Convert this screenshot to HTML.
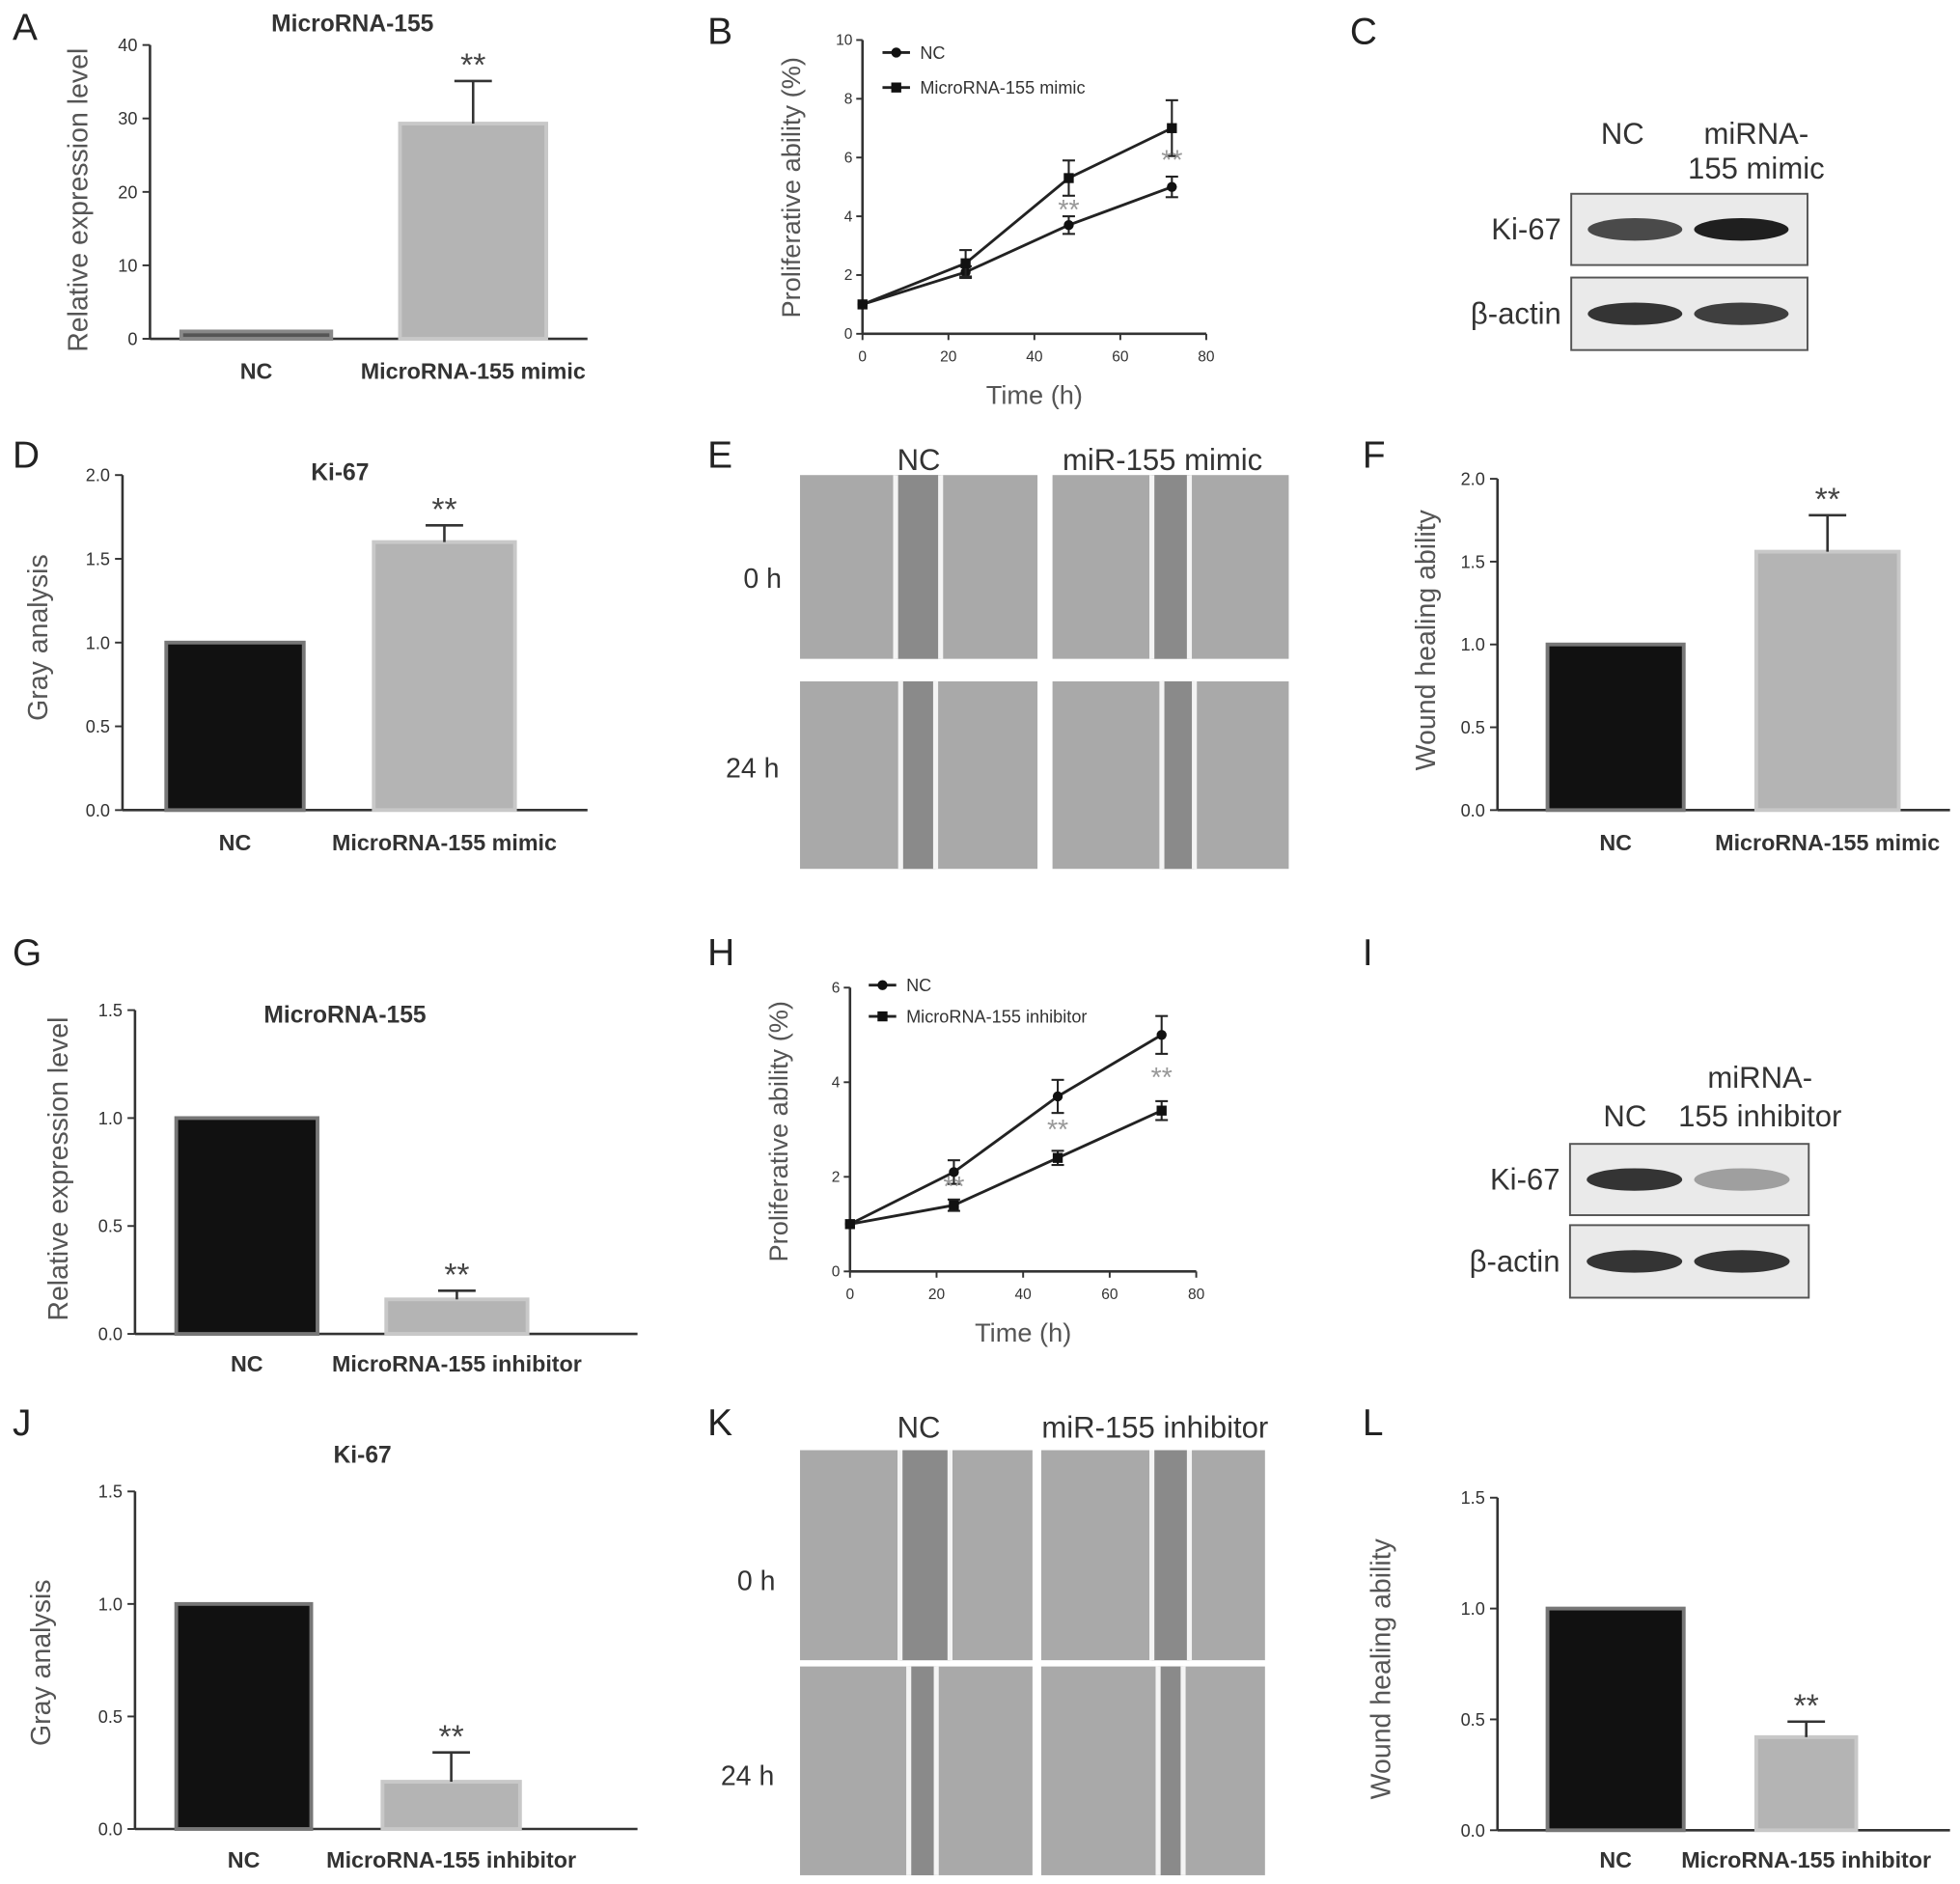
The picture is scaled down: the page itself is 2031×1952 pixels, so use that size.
<!DOCTYPE html>
<html><head><meta charset="utf-8"><style>
html,body{margin:0;padding:0;background:#fff;}
svg{display:block;font-family:"Liberation Sans",sans-serif;}
</style></head><body>
<svg id="fig" width="2031" height="1952" viewBox="0 0 1568 1507" xmlns="http://www.w3.org/2000/svg">
<rect width="1568" height="1507" fill="#fff"/>
</svg>
<script>
// ---- data ----
const barCats = ["NC","MicroRNA-155 mimic"];
const barCatsInh = ["NC","MicroRNA-155 inhibitor"];
const aValues = [1.0, 29.3]; const aErr = [0, 5.8]; const aTicks = [0,10,20,30,40];
const dValues = [1.0, 1.6]; const dErr = [0, 0.1]; const dTicks = ["0.0","0.5","1.0","1.5","2.0"];
const fValues = [1.0, 1.56]; const fErr = [0, 0.22]; const fTicks = ["0.0","0.5","1.0","1.5","2.0"];
const gValues = [1.0, 0.16]; const gErr = [0, 0.04]; const gTicks = ["0.0","0.5","1.0","1.5"];
const jValues = [1.0, 0.21]; const jErr = [0, 0.13]; const jTicks = ["0.0","0.5","1.0","1.5"];
const lValues = [1.0, 0.42]; const lErr = [0, 0.07]; const lTicks = ["0.0","0.5","1.0","1.5"];
const timePoints = [0,24,48,72];
const bNC = [1.0,2.1,3.7,5.0]; const bNCErr = [0,0.2,0.3,0.35];
const bMimic = [1.0,2.4,5.3,7.0]; const bMimicErr = [0,0.45,0.6,0.95];
const bTicks = [0,2,4,6,8,10]; const timeTicks = [0,20,40,60,80];
const hNC = [1.0,2.1,3.7,5.0]; const hNCErr = [0,0.25,0.35,0.4];
const hInh = [1.0,1.4,2.4,3.4]; const hInhErr = [0,0.12,0.15,0.2];
const hTicks = [0,2,4,6];

const svg = document.getElementById('fig');
const NS = "http://www.w3.org/2000/svg";
function mk(tag, attrs, parent, text){
  const e = document.createElementNS(NS, tag);
  for (const k in attrs) e.setAttribute(k, attrs[k]);
  if (text !== undefined) e.textContent = text;
  (parent||svg).appendChild(e);
  return e;
}
function txt(x,y,s,size,opts,name){
  opts = opts||{};
  const t = mk('text',{x:x,y:y,'font-size':size,fill:opts.fill||'#333','text-anchor':opts.anchor||'middle','font-weight':opts.bold?'bold':'normal'},null,s);
  if (opts.rot) t.setAttribute('transform','rotate(-90 '+x+' '+y+')');
  
  
  return t;
}
function letter(x,y,s){ txt(x,y,s,30,{anchor:'start',fill:'#222'},'panel-letter-'+s.toLowerCase()); }

function barChart(c){
  const g = mk('g',{});
  
  
  const ys = v => c.y0 - (v - 0)/(c.max)*(c.y0 - c.y1);
  mk('line',{x1:c.ax,y1:c.y1,x2:c.ax,y2:c.y0,stroke:'#333','stroke-width':2},g);
  mk('line',{x1:c.ax,y1:c.y0,x2:c.xEnd,y2:c.y0,stroke:'#333','stroke-width':2},g);
  c.ticks.forEach((t,i)=>{
    const v = parseFloat(t); const y = ys(v);
    mk('line',{x1:c.ax-6,y1:y,x2:c.ax,y2:y,stroke:'#333','stroke-width':1.5},g);
    const tl = mk('text',{x:c.ax-10,y:y+5,'font-size':14,'text-anchor':'end',fill:'#333'},g,t);
    
    
  });
  c.values.forEach((v,i)=>{
    const x0 = c.bx[i][0], x1 = c.bx[i][1], y = ys(v);
    const r = mk('rect',{x:x0,y:y,width:x1-x0,height:c.y0-y,fill:c.fills[i],stroke:c.strokes[i],'stroke-width':3},g);
    
    
    if (c.err[i] > 0){
      const cx = (x0+x1)/2, ye = ys(v + c.err[i]);
      mk('line',{x1:cx,y1:y,x2:cx,y2:ye,stroke:'#333','stroke-width':2},g);
      mk('line',{x1:cx-15,y1:ye,x2:cx+15,y2:ye,stroke:'#333','stroke-width':2},g);
      const st = mk('text',{x:cx,y:ye-4,'font-size':26,'text-anchor':'middle',fill:'#444'},g,'**');
      
      
    }
    const cl = mk('text',{x:(x0+x1)/2,y:c.catY,'font-size':18,'font-weight':'bold','text-anchor':'middle',fill:'#333'},g,c.cats[i]);
    
    
  });
  if (c.title) txt(c.titleX,c.titleY,c.title,19,{bold:true},'chart-title');
  txt(c.ylx,c.yly,c.ylabel,22,{rot:true,fill:'#555'},'y-axis-title');
}

function lineChart(c){
  const g = mk('g',{});
  
  
  const xs = t => c.ax + t/80*(c.x1 - c.ax);
  const ys = v => c.y0 - v/c.max*(c.y0 - c.y1);
  mk('line',{x1:c.ax,y1:c.y1,x2:c.ax,y2:c.y0,stroke:'#333','stroke-width':2},g);
  mk('line',{x1:c.ax,y1:c.y0,x2:c.x1,y2:c.y0,stroke:'#333','stroke-width':2},g);
  c.yt.forEach(v=>{
    const y = ys(v);
    mk('line',{x1:c.ax-5,y1:y,x2:c.ax,y2:y,stroke:'#333','stroke-width':1.5},g);
    const t = mk('text',{x:c.ax-8,y:y+4,'font-size':12,'text-anchor':'end',fill:'#333'},g,String(v));
     
  });
  timeTicks.forEach(v=>{
    const x = xs(v);
    mk('line',{x1:x,y1:c.y0,x2:x,y2:c.y0+5,stroke:'#333','stroke-width':1.5},g);
    const t = mk('text',{x:x,y:c.y0+22,'font-size':12,'text-anchor':'middle',fill:'#333'},g,String(v));
     
  });
  c.series.forEach((s,si)=>{
    const pts = timePoints.map((t,i)=>xs(t)+','+ys(s.v[i])).join(' ');
    const pl = mk('polyline',{points:pts,fill:'none',stroke:'#222','stroke-width':2.2},g);
    
    
    timePoints.forEach((t,i)=>{
      const x = xs(t), y = ys(s.v[i]);
      if (s.e[i]>0){
        mk('line',{x1:x,y1:ys(s.v[i]-s.e[i]),x2:x,y2:ys(s.v[i]+s.e[i]),stroke:'#222','stroke-width':1.6},g);
        mk('line',{x1:x-5,y1:ys(s.v[i]+s.e[i]),x2:x+5,y2:ys(s.v[i]+s.e[i]),stroke:'#222','stroke-width':1.6},g);
        mk('line',{x1:x-5,y1:ys(s.v[i]-s.e[i]),x2:x+5,y2:ys(s.v[i]-s.e[i]),stroke:'#222','stroke-width':1.6},g);
      }
      const m = si===0 ? mk('circle',{cx:x,cy:y,r:4,fill:'#111'},g) : mk('rect',{x:x-4,y:y-4,width:8,height:8,fill:'#111'},g);
      
      
    });
    // legend
    const ly = c.legY + si*c.legGap;
    mk('line',{x1:c.legX,y1:ly,x2:c.legX+22,y2:ly,stroke:'#222','stroke-width':2.2},g);
    if (si===0) mk('circle',{cx:c.legX+11,cy:ly,r:4,fill:'#111'},g); else mk('rect',{x:c.legX+7,y:ly-4,width:8,height:8,fill:'#111'},g);
    const lt = mk('text',{x:c.legX+30,y:ly+5,'font-size':14,fill:'#333'},g,s.label);
     
  });
  c.stars.forEach(([t,v])=>{
    const st = mk('text',{x:xs(t),y:ys(v),'font-size':22,'text-anchor':'middle',fill:'#999'},g,'**');
     
  });
  txt(c.ylx,c.yly,'Proliferative ability (%)',21,{rot:true,fill:'#555'},'y-axis-title');
  txt((c.ax+c.x1)/2,c.y0+56,'Time (h)',21,{fill:'#555'},'x-axis-title');
}

function blot(c){
  const g = mk('g',{});
  
  
  c.boxes.forEach((b,i)=>{
    mk('rect',{x:c.x0,y:b[0],width:c.x1-c.x0,height:b[1]-b[0],fill:'#eaeaea',stroke:'#555','stroke-width':1.5},g);
    const cy = (b[0]+b[1])/2;
    const w = c.x1 - c.x0;
    b[2].forEach((d,j)=>{
      const cx = c.x0 + w*(j===0?0.27:0.72);
      const el = mk('ellipse',{cx:cx,cy:cy,rx:w*0.2,ry:9,fill:'rgba(20,20,20,'+d+')'},g);
       
    });
    const t = mk('text',{x:c.x0-8,y:cy+8,'font-size':24,'text-anchor':'end',fill:'#333'},g,c.labels[i]);
     
  });
}

function wound(x,y,w,h,gap,name){
  const g = mk('g',{});
  
  
  mk('rect',{x:x,y:y,width:w,height:h,fill:'#a9a9a9'},g);
  const cx = x + w/2 + gap[0];
  mk('rect',{x:cx-gap[1]/2,y:y,width:gap[1],height:h,fill:'#8a8a8a'},g);
  mk('line',{x1:cx-gap[1]/2,y1:y,x2:cx-gap[1]/2,y2:y+h,stroke:'#f4f4f4','stroke-width':4},g);
  mk('line',{x1:cx+gap[1]/2,y1:y,x2:cx+gap[1]/2,y2:y+h,stroke:'#f4f4f4','stroke-width':4},g);
}

// Panel A
letter(10,32,'A');
barChart({name:'panel-a-chart',ax:120,y0:271,y1:36,max:40,xEnd:470,ticks:aTicks.map(String),values:aValues,err:aErr,
  bx:[[145,265],[320,437]],fills:['#555','#b4b4b4'],strokes:['#888','#c8c8c8'],cats:barCats,catY:303,
  title:'MicroRNA-155',titleX:282,titleY:25,ylabel:'Relative expression level',ylx:70,yly:160});
// Panel B
letter(566,35,'B');
lineChart({name:'panel-b-chart',ax:690,x1:965,y0:267,y1:32,max:10,yt:bTicks,
  series:[{key:'nc',label:'NC',v:bNC,e:bNCErr},{key:'mimic',label:'MicroRNA-155 mimic',v:bMimic,e:bMimicErr}],
  legX:706,legY:42,legGap:28,stars:[[48,3.9],[72,5.6]],ylx:640,yly:150});
// Panel C
letter(1080,35,'C');
txt(1298,115,'NC',24,{},'lane-label');
txt(1405,115,'miRNA-',24,{},'lane-label');
txt(1405,143,'155 mimic',24,{},'lane-label');
blot({name:'panel-c-blot',x0:1257,x1:1446,boxes:[[155,212,[0.75,0.95]],[222,280,[0.85,0.8]]],labels:['Ki-67','β-actin']});
// Panel D
letter(10,374,'D');
barChart({name:'panel-d-chart',ax:98,y0:648,y1:380,max:2,xEnd:470,ticks:dTicks,values:dValues,err:dErr,
  bx:[[133,243],[299,412]],fills:['#111','#b4b4b4'],strokes:['#777','#c8c8c8'],cats:barCats,catY:680,
  title:'Ki-67',titleX:272,titleY:384,ylabel:'Gray analysis',ylx:38,yly:510});
// Panel E
letter(566,374,'E');
txt(735,376,'NC',24,{},'column-label');
txt(930,376,'miR-155 mimic',24,{},'column-label');
txt(610,470,'0 h',22,{},'row-label');
txt(602,622,'24 h',22,{},'row-label');
wound(640,380,190,147,[-0.5,36],'wound-nc-0h');
wound(842,380,189,147,[0,30],'wound-mimic-0h');
wound(640,545,190,150,[-0.5,28],'wound-nc-24h');
wound(842,545,189,150,[6,26],'wound-mimic-24h');
// Panel F
letter(1090,374,'F');
barChart({name:'panel-f-chart',ax:1198,y0:648,y1:383,max:2,xEnd:1560,ticks:fTicks,values:fValues,err:fErr,
  bx:[[1238,1347],[1405,1519]],fills:['#111','#b4b4b4'],strokes:['#777','#c8c8c8'],cats:barCats,catY:680,
  title:null,ylabel:'Wound healing ability',ylx:1148,yly:512});
// Panel G
letter(10,772,'G');
barChart({name:'panel-g-chart',ax:108,y0:1067,y1:808,max:1.5,xEnd:510,ticks:gTicks,values:gValues,err:gErr,
  bx:[[141,254],[309,422]],fills:['#111','#b4b4b4'],strokes:['#777','#c8c8c8'],cats:barCatsInh,catY:1097,
  title:'MicroRNA-155',titleX:276,titleY:818,ylabel:'Relative expression level',ylx:54,yly:935});
// Panel H
letter(566,772,'H');
lineChart({name:'panel-h-chart',ax:680,x1:957,y0:1017,y1:790,max:6,yt:hTicks,
  series:[{key:'nc',label:'NC',v:hNC,e:hNCErr},{key:'inhibitor',label:'MicroRNA-155 inhibitor',v:hInh,e:hInhErr}],
  legX:695,legY:788,legGap:25,stars:[[24,1.6],[48,2.8],[72,3.9]],ylx:630,yly:905});
// Panel I
letter(1090,772,'I');
txt(1408,870,'miRNA-',24,{},'lane-label');
txt(1300,901,'NC',24,{},'lane-label');
txt(1408,901,'155 inhibitor',24,{},'lane-label');
blot({name:'panel-i-blot',x0:1256,x1:1447,boxes:[[915,972,[0.85,0.35]],[980,1038,[0.85,0.85]]],labels:['Ki-67','β-actin']});
// Panel J
letter(10,1148,'J');
barChart({name:'panel-j-chart',ax:108,y0:1463,y1:1193,max:1.5,xEnd:510,ticks:jTicks,values:jValues,err:jErr,
  bx:[[141,249],[306,416]],fills:['#111','#b4b4b4'],strokes:['#777','#c8c8c8'],cats:barCatsInh,catY:1494,
  title:'Ki-67',titleX:290,titleY:1170,ylabel:'Gray analysis',ylx:40,yly:1330});
// Panel K
letter(566,1148,'K');
txt(735,1150,'NC',24,{},'column-label');
txt(924,1150,'miR-155 inhibitor',24,{},'column-label');
txt(605,1272,'0 h',22,{},'row-label');
txt(598,1428,'24 h',22,{},'row-label');
wound(640,1160,186,168,[7,40],'wound-nc-0h-inh');
wound(833,1160,179,168,[14,30],'wound-inh-0h');
wound(640,1333,186,167,[5,22],'wound-nc-24h-inh');
wound(833,1333,179,167,[14,20],'wound-inh-24h');
// Panel L
letter(1090,1148,'L');
barChart({name:'panel-l-chart',ax:1198,y0:1464,y1:1198,max:1.5,xEnd:1560,ticks:lTicks,values:lValues,err:lErr,
  bx:[[1238,1347],[1405,1485]],fills:['#111','#b4b4b4'],strokes:['#777','#c8c8c8'],cats:barCatsInh,catY:1494,
  title:null,ylabel:'Wound healing ability',ylx:1112,yly:1335});
</script>
</body></html>
